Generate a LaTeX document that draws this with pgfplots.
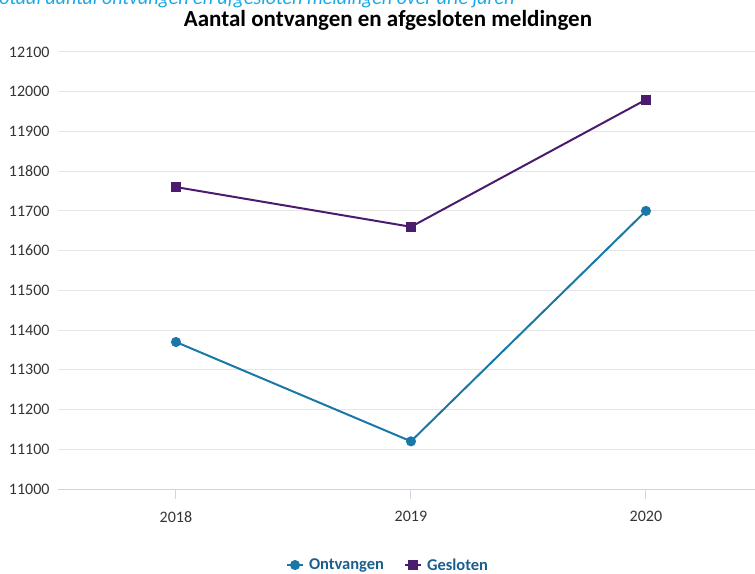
\documentclass[border=0pt]{standalone}
\usepackage{fontspec}
\setmainfont{Carlito}
\usepackage{pgfplots}
\pgfplotsset{compat=1.18}
\definecolor{ontv}{HTML}{1A78A8}
\definecolor{gesl}{HTML}{4B1B6E}
\definecolor{legtxt}{HTML}{1B5F8E}
\definecolor{subt}{HTML}{1AA9E6}
\definecolor{axcol}{HTML}{CCD6EB}
\definecolor{gridc}{HTML}{E6E6E6}
\begin{document}
\begin{tikzpicture}
\useasboundingbox (0pt,0pt) rectangle (755pt,573pt);
\node[anchor=base west, text=subt, font=\fontsize{20}{20}\selectfont\itshape, inner sep=0] at (-9pt,568pt) {Totaal aantal ontvangen en afgesloten meldingen over drie jaren};
\node[anchor=base, font=\fontsize{23}{23}\selectfont\bfseries, inner sep=0] at (388pt,546pt) {Aantal ontvangen en afgesloten meldingen};
\begin{axis}[
  at={(58pt,84pt)}, anchor=south west,
  scale only axis, width=697pt, height=437pt,
  xmin=-0.502, xmax=2.464, ymin=11000, ymax=12100,
  ytick={11000,11100,...,12100},
  scaled ticks=false,
  xtick={0,1,2}, xticklabels={2018,2019,2020},
  /pgf/number format/assume math mode=true,
  /pgf/number format/1000 sep={},
  ymajorgrids, grid style={color=gridc, line width=1pt},
  axis lines*=left,
  x axis line style={draw=axcol, line width=1pt, -},
  y axis line style={draw=none},
  tick align=outside,
  major tick length=10pt,
  x tick style={draw=axcol, line width=1pt},
  y tick style={draw=none},
  yticklabel style={font=\fontsize{16}{16}\selectfont, text=black!80, xshift=5pt},
  xticklabel style={font=\fontsize{16}{16}\selectfont, text=black!80, yshift=-9pt},
  clip=false,
  legend style={at={(0.4735,-0.174)}, anchor=center, draw=none, fill=none,
    legend columns=2, font=\fontsize{16.5}{16.5}\selectfont\bfseries, text=legtxt,
    /tikz/every odd column/.append style={column sep=3pt},
    /tikz/every even column/.append style={column sep=18pt}},
  legend cell align=left,
  legend image code/.code={
    \draw[#1, mark repeat=2, mark phase=2] plot coordinates {(0pt,0pt) (8pt,0pt) (16pt,0pt)};},
]
\addplot[color=ontv, line width=2pt, mark=*, mark size=4pt] coordinates {(0,11370) (1,11120) (2,11700)};
\addlegendentry{Ontvangen}
\addplot[color=gesl, line width=2pt, mark=square*, mark size=4pt] coordinates {(0,11760) (1,11660) (2,11980)};
\addlegendentry{Gesloten}
\end{axis}
\end{tikzpicture}
\end{document}
